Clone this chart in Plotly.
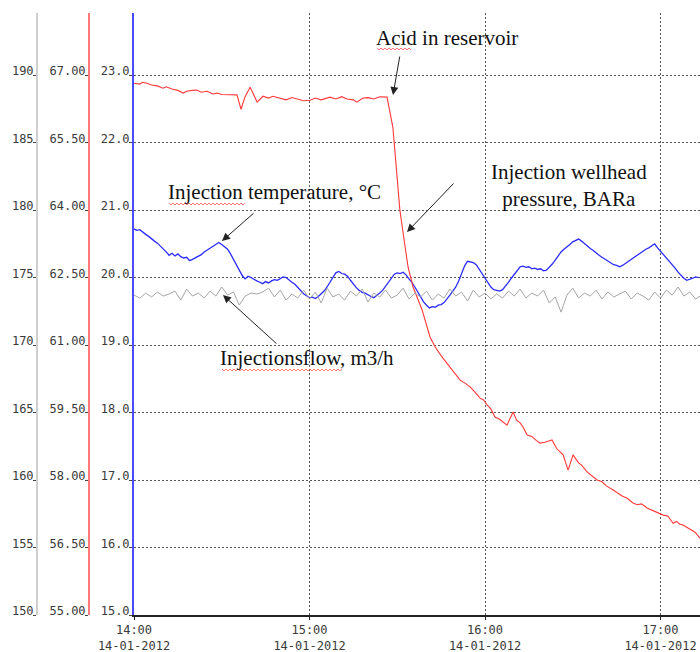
import pandas as pd
import plotly.graph_objects as go

START = pd.Timestamp("2012-01-14 14:00")

# Injection flow, m3/h (grey, outer axis) - minutes after 14:00
flow_minutes = list(range(0, 196, 2))
flow_m3h = [173.70, 173.48, 173.85, 173.56, 173.93, 173.63, 173.78, 174.00, 173.33, 174.15,
            173.63, 173.85, 173.48, 174.00, 173.63, 174.30, 173.70, 173.93, 172.96, 173.63,
            173.85, 173.78, 173.93, 174.22, 173.56, 174.07, 173.33, 173.78, 173.48, 174.07,
            173.41, 173.93, 173.11, 174.22, 173.56, 173.78, 173.33, 174.00, 173.63, 174.15,
            173.19, 173.85, 173.56, 174.07, 173.48, 173.70, 174.22, 173.41, 173.85, 173.56,
            174.00, 173.33, 173.78, 173.48, 174.15, 173.63, 173.93, 173.26, 174.07, 173.56,
            173.85, 173.41, 173.78, 173.48, 174.00, 173.63, 174.15, 173.48, 173.85, 173.63,
            174.07, 173.11, 173.56, 172.44, 173.70, 174.22, 173.48, 173.85, 173.63, 174.07,
            173.41, 173.93, 173.56, 173.78, 174.00, 173.41, 173.85, 173.63, 173.33, 173.93,
            173.48, 174.07, 173.70, 174.30, 173.63, 173.93, 173.41, 173.70]

# Injection temperature, °C (blue axis) - one reading per minute
temp_minutes = list(range(0, 194))
temp_c = [20.72, 20.70, 20.71, 20.67, 20.64, 20.61, 20.57, 20.54, 20.51, 20.47,
          20.42, 20.38, 20.33, 20.36, 20.32, 20.35, 20.31, 20.29, 20.30, 20.25,
          20.27, 20.29, 20.31, 20.34, 20.38, 20.41, 20.44, 20.47, 20.50, 20.52,
          20.49, 20.46, 20.42, 20.35, 20.27, 20.18, 20.10, 20.03, 19.98, 20.02,
          20.00, 19.97, 19.95, 19.93, 19.91, 19.94, 19.92, 19.95, 19.97, 19.96,
          19.99, 20.01, 20.00, 19.96, 19.93, 19.90, 19.85, 19.80, 19.76, 19.73,
          19.70, 19.71, 19.69, 19.72, 19.76, 19.80, 19.86, 19.93, 20.00, 20.07,
          20.09, 20.06, 20.05, 20.02, 19.96, 19.90, 19.85, 19.81, 19.78, 19.77,
          19.74, 19.72, 19.70, 19.73, 19.77, 19.81, 19.87, 19.93, 20.00, 20.05,
          20.07, 20.06, 20.08, 20.04, 19.98, 19.93, 19.86, 19.78, 19.70, 19.64,
          19.59, 19.55, 19.57, 19.56, 19.59, 19.60, 19.63, 19.68, 19.74, 19.80,
          19.86, 19.95, 20.06, 20.17, 20.24, 20.23, 20.22, 20.19, 20.12, 20.06,
          20.00, 19.93, 19.86, 19.82, 19.81, 19.80, 19.82, 19.87, 19.93, 19.99,
          20.05, 20.11, 20.16, 20.17, 20.15, 20.16, 20.13, 20.14, 20.12, 20.13,
          20.10, 20.11, 20.15, 20.20, 20.26, 20.32, 20.38, 20.42, 20.45, 20.49,
          20.53, 20.55, 20.57, 20.54, 20.50, 20.46, 20.43, 20.40, 20.36, 20.33,
          20.30, 20.27, 20.25, 20.22, 20.19, 20.18, 20.16, 20.18, 20.21, 20.24,
          20.28, 20.31, 20.34, 20.37, 20.39, 20.42, 20.44, 20.47, 20.50, 20.44,
          20.39, 20.35, 20.30, 20.25, 20.20, 20.14, 20.08, 20.03, 19.99, 19.96,
          19.97, 19.99, 20.01, 20.00]

# Injection wellhead pressure, BARa (red axis)
press_minutes = [0, 2, 3, 4.4, 6, 8, 9.9, 11, 13, 15, 16.8, 18, 20, 21.5, 23, 25, 27, 28.4, 30,
                 32.8, 35.2, 36.6, 37.9, 39.7, 41, 42.1, 44.1, 46, 47.5, 49.9, 52, 54, 55.7, 58,
                 60.2, 62, 64, 67.0, 69, 71, 72.8, 75, 76.2, 78.3, 80, 82, 84, 85.8, 86.5, 88.5,
                 90.9, 92.0, 93.7, 95.4, 98.5, 101.2, 103, 105.6, 108, 110, 111.5, 113, 114.9,
                 116.5, 118.3, 119.5, 120.7, 122, 123.4, 125, 127.5, 129.6, 130.8, 132.0, 133,
                 134.4, 136, 137.5, 138.8, 140.5, 142.9, 144.5, 146.7, 148.4, 150.1, 152, 153,
                 154.9, 156.5, 158.3, 160, 161.5, 163.8, 165.5, 167, 168.5, 170.6, 172, 173.5,
                 175.4, 177, 179, 180.9, 182.5, 184.3, 185.5, 186.5, 187.7, 189.5, 191.8, 193.5]
press_bara = [66.82, 66.80, 66.84, 66.82, 66.78, 66.76, 66.71, 66.74, 66.69, 66.66, 66.60,
              66.64, 66.66, 66.67, 66.62, 66.64, 66.58, 66.60, 66.57, 66.56, 66.56, 66.24,
              66.51, 66.73, 66.55, 66.40, 66.53, 66.49, 66.53, 66.49, 66.45, 66.50, 66.47,
              66.43, 66.44, 66.49, 66.45, 66.51, 66.47, 66.52, 66.47, 66.45, 66.40, 66.49,
              66.50, 66.47, 66.52, 66.51, 66.51, 65.84, 64.00, 63.49, 62.73, 62.29, 61.78,
              61.18, 60.95, 60.71, 60.50, 60.33, 60.22, 60.16, 60.07, 59.96, 59.82, 59.78,
              59.67, 59.58, 59.40, 59.35, 59.22, 59.51, 59.33, 59.27, 59.18, 59.00, 58.97,
              58.88, 58.82, 58.84, 58.89, 58.70, 58.56, 58.22, 58.56, 58.38, 58.33, 58.18,
              58.10, 58.00, 57.96, 57.87, 57.78, 57.70, 57.64, 57.60, 57.49, 57.45, 57.47,
              57.38, 57.33, 57.27, 57.22, 57.20, 57.04, 57.08, 57.02, 57.00, 56.93, 56.84,
              56.71]

temp_ticks = [15, 16, 17, 18, 19, 20, 21, 22, 23]
press_ticks = [55.0, 56.5, 58.0, 59.5, 61.0, 62.5, 64.0, 65.5, 67.0]
flow_ticks = [150, 155, 160, 165, 170, 175, 180, 185, 190]


def ts(mins):
    return START + pd.to_timedelta(mins, unit="m")


W, H = 700, 652
L, R, T, B = 134, 700, 13, 615  # plot area in px

fig = go.Figure()
fig.add_trace(go.Scatter(x=ts(flow_minutes), y=flow_m3h, yaxis="y3", mode="lines",
                         line=dict(color="#a6a6a6", width=1), hoverinfo="skip"))
fig.add_trace(go.Scatter(x=ts(temp_minutes), y=temp_c, yaxis="y", mode="lines",
                         line=dict(color="#2b2bff", width=1.3), hoverinfo="skip"))
fig.add_trace(go.Scatter(x=ts(press_minutes), y=press_bara, yaxis="y2", mode="lines",
                         line=dict(color="#ff3838", width=1.1), hoverinfo="skip"))

tickfont = dict(family="DejaVu Sans Mono", size=12, color="#3a3a3a")
span = 8.92  # visible units of the blue axis above 15.0

common_y = dict(showline=True, linewidth=2, ticks="outside", ticklen=3, tickwidth=1,
                tickcolor="#444", tickfont=tickfont, zeroline=False, fixedrange=True,
                ticklabelshift=-4, ticklabelstandoff=-3, automargin=False)

fig.update_layout(
    width=W, height=H,
    margin=dict(l=0, r=0, t=T, b=H - B, autoexpand=False),
    plot_bgcolor="white", paper_bgcolor="white",
    showlegend=False,
    xaxis=dict(domain=[L / W, 1], type="date",
               range=[START, ts(193.5)],
               dtick=3600000, tick0=START, tickformat="%H:%M<br>%d-%m-%Y",
               showgrid=True, gridcolor="#555", griddash="2px,2px", gridwidth=1,
               showline=True, linecolor="#222", linewidth=1.5,
               ticks="outside", ticklen=3, tickcolor="#222",
               tickfont=tickfont, zeroline=False, automargin=False, fixedrange=True),
    yaxis=dict(range=[15, 15 + span], tickvals=temp_ticks,
               ticktext=[f"{v:.1f}" for v in temp_ticks],
               linecolor="#4b4bff", showgrid=True, gridcolor="#555",
               griddash="2px,2px", gridwidth=1, anchor="x", side="left", **common_y),
    yaxis2=dict(range=[55, 55 + span * 1.5], tickvals=press_ticks,
                ticktext=[f"{v:.2f}" for v in press_ticks],
                linecolor="#ff7a7a", showgrid=False, overlaying="y",
                anchor="free", position=89 / W, side="left", **common_y),
    yaxis3=dict(range=[150, 150 + span * 5], tickvals=flow_ticks,
                ticktext=[str(v) for v in flow_ticks],
                linecolor="#cfcfcf", showgrid=False, overlaying="y",
                anchor="free", position=37 / W, side="left", **common_y),
)


def px2paper(px, py):
    return px / W, (B - py) / (B - T)


labels = [
    ("Acid in reservoir", 447, 38),
    ("Injection wellhead<br>pressure, BARa", 569, 185),
    ("Injection temperature, °C", 274, 192),
    ("Injectionsflow, m3/h", 307, 358),
]
for text, px, py in labels:
    xp, yp = px2paper(px, py)
    fig.add_annotation(text=text, x=xp, y=yp, xref="paper", yref="paper",
                       showarrow=False, xanchor="center", yanchor="middle",
                       font=dict(family="Liberation Serif", size=21, color="#111"))

arrows = [  # tip px, tip py, tail dx, tail dy
    (393, 95, 7, -40),
    (407, 232, 48, -50),
    (222, 241, 33, -29),
    (223, 295, 55, 50),
]
for px, py, ax, ay in arrows:
    xp, yp = px2paper(px, py)
    fig.add_annotation(text="", x=xp, y=yp, xref="paper", yref="paper",
                       ax=ax, ay=ay, axref="pixel", ayref="pixel",
                       showarrow=True, arrowhead=2, arrowsize=1.6, arrowwidth=1,
                       arrowcolor="#222")

# red spell-check squiggles under some words of the annotations
squiggles = [(377, 411, 49), (169, 246, 204), (222, 343, 370)]
for x0, x1, yy in squiggles:
    pts = []
    xx, k = x0, 0
    while xx <= x1:
        xp, yp = px2paper(xx, yy + (1 if k % 2 else -1))
        pts.append(f"{xp:.5f},{yp:.5f}")
        xx += 2
        k += 1
    fig.add_shape(type="path", xref="paper", yref="paper",
                  path="M " + " L ".join(pts),
                  line=dict(color="#ff5050", width=0.8))

fig.write_html("out.html", post_script="document.body.style.margin='0px';",
               config={"displayModeBar": False})
